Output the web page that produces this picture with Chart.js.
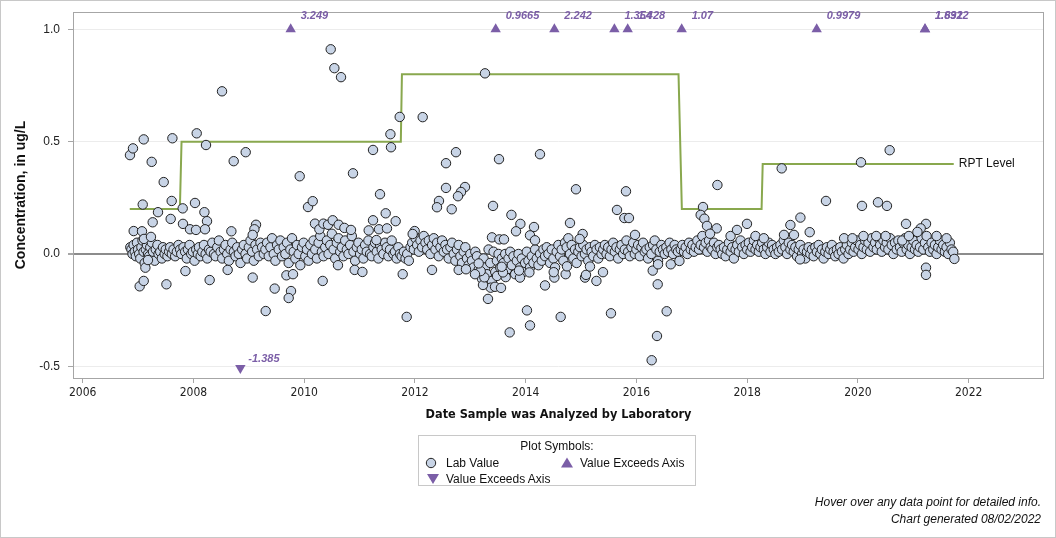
<!DOCTYPE html>
<html>
<head>
<meta charset="utf-8">
<script src="https://cdn.jsdelivr.net/npm/chart.js@4.4.0/dist/chart.umd.min.js"></script>
<style>
  html, body { margin:0; padding:0; background:#fff; }
  #wrap { position:relative; width:1056px; height:538px; overflow:hidden; font-family:"Liberation Sans", Arial, sans-serif; }
  #c { position:absolute; left:0; top:0; }
  #legend { position:absolute; left:418px; top:435px; width:278px; height:51px; border:1px solid #c8c8c8; box-sizing:border-box; font-size:12px; color:#111; }
  #legend .t { position:absolute; left:0; width:100%; top:3px; text-align:center; }
  #legend .it { position:absolute; white-space:nowrap; line-height:14px; }
  #legend svg { position:absolute; }
  .foot { position:absolute; right:15px; font-size:12px; font-style:italic; color:#111; white-space:nowrap; line-height:14px; }
</style>
</head>
<body>
<div id="wrap">
  <canvas id="c" width="1056" height="538"></canvas>
  <div id="legend">
    <div class="t">Plot Symbols:</div>
    <svg style="left:6px;top:21px" width="12" height="12"><circle cx="6" cy="6" r="4.7" fill="#c8d4e6" stroke="#222" stroke-width="1"/></svg>
    <div class="it" style="left:27px;top:20px">Lab Value</div>
    <svg style="left:141px;top:20px" width="14" height="13"><polygon points="7,1.5 13,11.5 1,11.5" fill="#7b5ea7"/></svg>
    <div class="it" style="left:161px;top:20px">Value Exceeds Axis</div>
    <svg style="left:7px;top:36px" width="14" height="13"><polygon points="1,2 13,2 7,12" fill="#7b5ea7"/></svg>
    <div class="it" style="left:27px;top:36px">Value Exceeds Axis</div>
  </div>
  <div class="foot" style="top:495px">Hover over any data point for detailed info.</div>
  <div class="foot" style="top:512px">Chart generated 08/02/2022</div>
</div>
<script>
// ---------------- data ----------------
const xTicks = [2006, 2008, 2010, 2012, 2014, 2016, 2018, 2020, 2022];
const yTicks = [-0.5, 0.0, 0.5, 1.0];

// Reporting level (step line)
const rptDates  = [2006.85, 2007.755, 2007.785, 2011.745, 2011.765, 2016.76, 2016.82, 2018.26, 2018.28, 2021.73];
const rptValues = [0.2,     0.2,      0.5,      0.5,      0.8,      0.8,     0.2,     0.2,     0.4,     0.4];

// Values exceeding the axis (plotted at the axis limits, labelled with their true value)
const highDates  = [2009.756, 2013.458, 2014.518, 2015.602, 2015.842, 2016.817, 2019.255, 2021.211, 2021.211];
const highLabels = ['3.249', '0.9665', '2.242', '1.354', '1.428', '1.07', '0.9979', '1.632', '1.8912'];
const highPlotValue = 1.0;
const lowDates  = [2008.847];
const lowLabels = ['-1.385'];
const lowPlotValue = -0.508;

// Lab values: [decimal year, concentration ug/L]
const labOutliers = [
 [2006.854,0.44],[2006.908,0.47],[2007.102,0.51],[2007.246,0.41],[2007.463,0.32],[2007.084,0.22],[2007.607,0.236],[2007.62,0.515],
 [2007.36,0.186],[2007.264,0.141],[2007.589,0.156],[2007.806,0.203],[2008.028,0.227],[2008.059,0.537],[2008.227,0.485],[2008.198,0.186],
 [2008.245,0.146],[2007.811,0.134],[2007.938,0.11],[2008.046,0.107],[2008.209,0.11],[2008.516,0.724],[2008.727,0.413],[2008.944,0.453],
 [2008.685,0.101],[2006.921,0.102],[2007.071,0.101],[2007.107,0.067],[2007.233,0.076],[2007.029,-0.144],[2007.102,-0.12],[2007.512,-0.135],
 [2007.132,-0.061],[2007.179,-0.027],[2007.855,-0.076],[2008.293,-0.116],[2008.618,-0.071],
 [2009.919,0.346],[2010.069,0.209],[2010.154,0.235],[2010.479,0.911],[2010.545,0.827],[2010.665,0.787],[2010.881,0.359],[2011.243,0.463],
 [2011.557,0.533],[2011.568,0.475],[2011.725,0.61],[2011.369,0.266],[2011.472,0.181],[2011.652,0.146],[2011.243,0.15],[2011.165,0.105],
 [2011.351,0.11],[2011.495,0.114],[2011.304,0.062],
 [2010.195,0.135],[2010.274,0.11],[2010.347,0.135],[2010.43,0.13],[2010.515,0.15],[2010.623,0.13],[2010.726,0.116],[2010.845,0.107],
 [2009.13,0.13],[2009.101,0.11],[2009.07,0.085],[2009.07,-0.105],[2009.305,-0.254],[2009.467,-0.154],[2009.679,-0.095],[2009.798,-0.09],
 [2009.762,-0.165],[2009.72,-0.196],[2010.334,-0.12],[2010.61,-0.05],[2010.912,-0.071],[2011.051,-0.08],[2011.779,-0.09],
 [2012.14,0.609],[2013.265,0.804],[2012.741,0.453],[2012.561,0.404],[2013.518,0.422],[2014.258,0.444],[2012.561,0.294],[2012.904,0.298],
 [2012.832,0.276],[2012.777,0.257],[2012.434,0.236],[2012.398,0.208],[2012.664,0.199],[2013.41,0.214],[2013.742,0.174],[2013.904,0.134],
 [2013.825,0.101],[2014.15,0.12],[2014.078,0.083],[2014.168,0.061],[2013.391,0.074],[2013.525,0.065],[2013.608,0.065],[2014.8,0.138],
 [2014.908,0.288],[2015.029,0.089],[2014.975,0.067],[2015.811,0.279],[2015.649,0.196],[2015.782,0.16],[2015.865,0.16],[2015.974,0.085],
 [2017.202,0.209],[2017.16,0.174],[2017.227,0.157],[2017.274,0.125],[2017.462,0.307],[2017.45,0.114],[2017.329,0.09],[2011.995,0.102],
 [2011.959,0.089],
 [2011.851,-0.28],[2012.308,-0.071],[2013.319,-0.2],[2013.368,-0.15],[2013.446,-0.146],[2013.554,-0.151],[2013.229,-0.138],[2013.254,-0.104],
 [2013.187,-0.076],[2013.084,-0.09],[2013.151,-0.042],[2013.482,-0.098],[2013.639,-0.103],[2013.59,-0.082],[2013.567,-0.057],[2013.711,-0.349],
 [2014.023,-0.251],[2014.078,-0.318],[2013.897,-0.105],[2014.067,-0.082],[2013.879,-0.074],[2014.349,-0.14],[2014.632,-0.28],[2014.518,-0.105],
 [2014.506,-0.081],[2014.722,-0.09],[2014.746,-0.055],[2015.071,-0.105],[2015.089,-0.093],[2015.161,-0.056],[2015.277,-0.12],[2015.396,-0.081],
 [2015.54,-0.264],[2016.275,-0.473],[2016.371,-0.365],[2016.546,-0.255],[2016.384,-0.135],[2016.294,-0.074],[2016.39,-0.046],[2016.62,-0.046],
 [2016.776,-0.031],[2012.79,-0.071],[2012.922,-0.068],
 [2018.623,0.381],[2020.055,0.408],[2020.573,0.462],[2019.423,0.236],[2020.073,0.214],[2020.362,0.23],[2020.524,0.214],[2017.996,0.134],
 [2017.816,0.107],[2018.961,0.162],[2018.78,0.129],[2018.845,0.085],[2018.665,0.085],[2019.129,0.097],[2020.868,0.134],[2021.229,0.134],
 [2021.133,0.114],[2021.074,0.098],[2021.229,-0.061],[2021.229,-0.093],[2021.741,-0.022],[2018.954,-0.024]
];

const labBand2006to2009 = [
 [2006.86,0.03],[2006.88,0.02],[2006.9,0.0],[2006.92,0.04],[2006.94,0.01],[2006.96,-0.01],[2006.98,0.05],[2007.0,0.02],[2007.02,0.0],
 [2007.04,-0.02],[2007.06,0.03],[2007.08,0.06],[2007.1,0.01],[2007.12,-0.04],[2007.14,0.02],[2007.16,0.04],[2007.18,0.0],[2007.2,-0.01],
 [2007.22,0.03],[2007.25,0.05],[2007.27,0.01],[2007.3,-0.03],[2007.32,0.02],[2007.35,0.04],[2007.37,0.0],[2007.4,0.01],[2007.43,-0.02],
 [2007.45,0.03],[2007.48,0.0],[2007.5,0.02],[2007.53,-0.01],[2007.56,0.01],[2007.58,0.03],[2007.61,0.0],[2007.64,0.02],[2007.67,-0.01],
 [2007.7,0.01],[2007.73,0.04],[2007.76,0.02],[2007.78,0.0],
 [2007.82,0.03],[2007.85,0.01],[2007.88,-0.02],[2007.9,0.02],[2007.93,0.04],[2007.96,0.0],[2007.99,0.01],[2008.02,-0.03],[2008.05,0.02],
 [2008.08,0.0],[2008.1,0.03],[2008.13,-0.01],[2008.16,0.01],[2008.19,0.04],[2008.22,0.0],[2008.25,-0.02],[2008.28,0.02],[2008.31,0.01],
 [2008.34,0.05],[2008.37,0.0],[2008.4,-0.01],[2008.43,0.03],[2008.46,0.06],[2008.49,0.01],[2008.52,-0.02],[2008.55,0.02],[2008.58,0.04],
 [2008.61,0.0],[2008.64,-0.03],[2008.67,0.02],[2008.7,0.05],[2008.73,0.01],[2008.76,-0.01],[2008.79,0.03],[2008.82,0.0],[2008.85,-0.04],
 [2008.88,0.02],[2008.91,0.04],[2008.94,0.0],[2008.97,-0.02],[2009.0,0.03],[2009.03,0.06],[2009.06,0.01],[2009.09,-0.03],[2009.12,0.04],
 [2009.15,0.02],[2009.18,-0.01],[2009.21,0.05],[2009.24,0.03],[2009.27,0.0]
];

const labBand2009to2012 = [
 [2009.3,0.02],[2009.33,0.05],[2009.36,-0.01],[2009.39,0.03],[2009.42,0.07],[2009.45,0.0],[2009.48,-0.03],[2009.51,0.04],[2009.54,0.02],
 [2009.57,0.06],[2009.6,-0.01],[2009.63,0.03],[2009.66,0.0],[2009.69,0.05],[2009.72,-0.04],[2009.75,0.02],[2009.78,0.07],[2009.81,0.01],
 [2009.84,-0.02],[2009.87,0.04],[2009.9,0.0],[2009.93,-0.05],[2009.96,0.03],[2009.99,0.05],[2010.02,-0.01],[2010.05,0.02],[2010.08,-0.03],
 [2010.11,0.04],[2010.14,0.0],[2010.17,0.06],[2010.2,0.02],[2010.23,-0.02],[2010.26,0.05],[2010.29,0.08],[2010.32,0.01],[2010.35,-0.01],
 [2010.38,0.03],[2010.41,0.06],[2010.44,0.0],[2010.47,0.04],[2010.5,0.09],[2010.53,0.02],[2010.56,-0.02],[2010.59,0.05],[2010.62,0.07],
 [2010.65,0.01],[2010.68,0.03],[2010.71,-0.01],[2010.74,0.06],[2010.77,0.02],[2010.8,0.0],[2010.83,0.04],[2010.86,0.08],[2010.89,0.01],
 [2010.92,-0.03],[2010.95,0.03],[2010.98,0.05],[2011.01,0.0],[2011.04,0.02],[2011.07,-0.02],[2011.1,0.04],[2011.13,0.01],[2011.16,0.06],
 [2011.19,0.0],[2011.22,-0.01],[2011.25,0.03],[2011.28,0.05],[2011.31,0.01],[2011.34,-0.02],[2011.37,0.04],[2011.4,0.02],[2011.43,0.0],
 [2011.46,0.05],[2011.49,0.03],[2011.52,-0.01],[2011.55,0.02],[2011.58,0.06],[2011.61,0.0],[2011.64,0.01],[2011.67,-0.02],[2011.7,0.03],
 [2011.73,0.0],[2011.76,-0.01]
];

const labBand2012to2016 = [
 [2011.8,0.01],[2011.83,-0.02],[2011.86,0.0],[2011.89,-0.03],[2011.92,0.03],[2011.95,0.05],[2011.98,0.02],[2012.01,0.07],[2012.04,0.04],
 [2012.07,0.01],[2012.1,0.06],[2012.13,0.03],[2012.16,0.08],[2012.19,0.05],[2012.22,0.02],[2012.25,0.06],[2012.28,0.0],[2012.31,0.04],
 [2012.34,0.07],[2012.37,0.02],[2012.4,0.05],[2012.43,-0.01],[2012.46,0.03],[2012.49,0.06],[2012.52,0.01],[2012.55,0.04],[2012.58,0.02],
 [2012.61,-0.02],[2012.64,0.03],[2012.67,0.05],[2012.7,0.0],[2012.73,-0.03],[2012.76,0.02],[2012.79,0.04],[2012.82,-0.01],[2012.85,-0.04],
 [2012.88,0.01],[2012.91,0.03],[2012.94,-0.02],[2012.97,-0.05],[2013.0,0.0],[2013.03,-0.03],[2013.06,-0.06],[2013.09,0.01],[2013.12,-0.01],
 [2013.15,-0.07],[2013.18,-0.04],[2013.21,-0.11],[2013.24,-0.02],[2013.27,-0.06],[2013.3,-0.09],[2013.33,0.02],[2013.36,-0.04],[2013.39,-0.12],
 [2013.42,0.01],[2013.45,-0.08],[2013.48,-0.03],[2013.51,0.0],[2013.54,-0.06],[2013.57,-0.02],
 [2013.6,-0.04],[2013.63,0.0],[2013.66,-0.07],[2013.69,-0.02],[2013.72,0.01],[2013.75,-0.05],[2013.78,-0.01],[2013.81,-0.09],[2013.84,-0.03],
 [2013.87,0.0],[2013.9,-0.06],[2013.93,-0.02],[2013.96,-0.08],[2013.99,-0.04],[2014.02,0.01],[2014.05,-0.03],[2014.08,-0.06],[2014.11,-0.01],
 [2014.14,-0.04],[2014.17,0.02],[2014.2,-0.02],[2014.23,-0.05],[2014.26,0.0],[2014.29,-0.03],[2014.32,0.02],[2014.35,-0.01],[2014.38,0.03],
 [2014.41,0.0],[2014.44,-0.04],[2014.47,0.02],[2014.5,-0.02],[2014.53,-0.06],[2014.56,0.01],[2014.59,0.04],[2014.62,-0.01],[2014.65,0.02],
 [2014.68,-0.03],[2014.71,0.05],[2014.74,0.03],[2014.77,0.07],[2014.8,0.0],[2014.83,0.04],[2014.86,-0.02],[2014.89,0.02],[2014.92,-0.04],
 [2014.95,0.01],[2014.98,0.03],[2015.01,-0.01],[2015.04,0.04],[2015.07,0.0],[2015.1,0.02],[2015.13,-0.03],[2015.16,0.03],[2015.19,0.01],
 [2015.22,-0.01],[2015.25,0.04],[2015.28,0.02],[2015.31,-0.02],[2015.34,0.03],[2015.37,0.0],
 [2015.4,0.02],[2015.43,0.04],[2015.46,0.0],[2015.49,0.03],[2015.52,-0.01],[2015.55,0.02],[2015.58,0.05],[2015.61,0.01],[2015.64,0.03],
 [2015.67,-0.02],[2015.7,0.02],[2015.73,0.04],[2015.76,0.0],[2015.79,0.02],[2015.82,0.06],[2015.85,0.01],[2015.88,-0.01],[2015.91,0.03],
 [2015.94,0.05],[2015.97,0.0],[2016.0,0.02],[2016.03,0.04],[2016.06,-0.01],[2016.09,0.03],[2016.12,0.05],[2016.15,0.01],[2016.18,0.02],
 [2016.21,-0.02],[2016.24,0.03],[2016.27,0.0],[2016.3,0.04],[2016.33,0.06],[2016.36,0.02],[2016.39,-0.03],[2016.42,0.01],[2016.45,0.04],
 [2016.48,0.02],[2016.51,0.0],[2016.54,0.03],[2016.57,0.01],[2016.6,0.05],[2016.63,0.02],[2016.66,0.0],[2016.69,0.04],[2016.72,0.02],
 [2016.75,0.01]
];

const labBand2016to2022 = [
 [2016.8,0.02],[2016.83,0.04],[2016.86,0.01],[2016.89,0.03],[2016.92,0.0],[2016.95,0.05],[2016.98,0.02],[2017.01,0.04],[2017.04,0.01],
 [2017.07,0.03],[2017.1,0.06],[2017.13,0.02],[2017.16,0.04],[2017.19,0.08],[2017.22,0.03],[2017.25,0.05],[2017.28,0.01],[2017.31,0.06],
 [2017.34,0.03],[2017.37,0.02],[2017.4,0.05],[2017.43,0.0],[2017.46,0.03],[2017.49,0.04],[2017.52,0.02],[2017.55,0.0],[2017.58,0.03],
 [2017.61,-0.01],[2017.64,0.02],[2017.67,0.05],[2017.7,0.01],[2017.73,0.03],[2017.76,-0.02],[2017.79,0.02],[2017.82,0.04],[2017.85,0.01],
 [2017.88,0.06],[2017.91,0.03],[2017.94,0.0],[2017.97,0.04],[2018.0,0.02],[2018.03,0.05],[2018.06,0.01],[2018.09,0.03],[2018.12,0.06],
 [2018.15,0.02],[2018.18,0.04],[2018.21,0.01],[2018.24,0.03],[2018.27,0.05],[2018.3,0.02],[2018.33,0.0],[2018.36,0.03],[2018.39,0.05],
 [2018.42,0.01],[2018.45,0.04],[2018.48,0.02],[2018.51,0.0],[2018.54,0.03],[2018.57,0.01],[2018.6,0.04],[2018.63,0.02],[2018.66,0.06],
 [2018.69,0.03],[2018.72,0.0],[2018.75,0.05],[2018.78,0.02],[2018.81,0.04],[2018.84,0.01],[2018.87,0.03],[2018.9,-0.01],[2018.93,0.02],
 [2018.96,0.04],[2018.99,0.0],[2019.02,0.02],[2019.05,-0.02],[2019.08,0.01],[2019.11,0.03],[2019.14,0.0],[2019.17,0.02],[2019.2,-0.01],
 [2019.23,0.03],[2019.26,0.01],[2019.29,0.04],[2019.32,0.0],[2019.35,0.02],[2019.38,-0.02],[2019.41,0.01],[2019.44,0.03],[2019.47,0.0],
 [2019.5,0.02],[2019.53,0.04],[2019.56,0.01],[2019.59,-0.01],[2019.62,0.02],[2019.65,0.0],[2019.68,0.03],[2019.71,0.01],[2019.74,-0.02],
 [2019.77,0.02],[2019.8,0.04],[2019.83,0.0],[2019.86,0.02],[2019.89,0.05],[2019.92,0.01],[2019.95,0.03],[2019.98,0.06],[2020.01,0.02],
 [2020.04,0.04],[2020.07,0.0],[2020.1,0.03],[2020.13,0.06],[2020.16,0.02],[2020.19,0.05],[2020.22,0.01],[2020.25,0.07],[2020.28,0.03],
 [2020.31,0.05],[2020.34,0.02],[2020.37,0.07],[2020.4,0.04],[2020.43,0.01],[2020.46,0.06],[2020.49,0.03],[2020.52,0.05],[2020.55,0.02],
 [2020.58,0.07],[2020.61,0.04],[2020.64,0.0],[2020.67,0.05],[2020.7,0.02],[2020.73,0.06],[2020.76,0.03],[2020.79,0.01],[2020.82,0.05],
 [2020.85,0.07],[2020.88,0.02],[2020.91,0.04],[2020.94,0.0],[2020.97,0.03],[2021.0,0.06],[2021.03,0.02],[2021.06,0.04],[2021.09,0.01],
 [2021.12,0.03],[2021.15,0.07],[2021.18,0.02],[2021.21,0.05],[2021.24,0.08],[2021.27,0.03],[2021.3,0.01],[2021.33,0.05],[2021.36,0.02],
 [2021.39,0.04],[2021.42,0.0],[2021.45,0.03],[2021.48,0.06],[2021.51,0.02],[2021.54,0.04],[2021.57,0.01],[2021.6,0.03],[2021.63,0.0],
 [2021.66,0.05],[2021.69,0.02],[2021.72,0.01],
 [2017.7,0.08],[2018.15,0.08],[2018.3,0.07],[2019.75,0.07],[2019.9,0.07],[2020.1,0.08],[2020.33,0.08],[2020.5,0.08],[2020.8,0.06],
 [2020.92,0.08],[2021.42,0.08],[2021.6,0.07]
];

// ---------------- styles ----------------
const PURPLE = '#7b5ea7';
const GREEN = '#89a84e';
const NARROW = '"Liberation Sans Narrow", "Arial Narrow", "DejaVu Sans Condensed", sans-serif';
const SANS = '"Liberation Sans", Arial, sans-serif';

const labData = [].concat(labBand2006to2009, labBand2009to2012, labBand2012to2016, labBand2016to2022, labOutliers)
  .map(p => ({x: p[0], y: p[1]}));
const rptData = rptDates.map((d, i) => ({x: d, y: rptValues[i]}));
const highData = highDates.map(d => ({x: d, y: highPlotValue}));
const lowData = lowDates.map(d => ({x: d, y: lowPlotValue}));

const overlay = {
  id: 'overlay',
  beforeDraw(chart) {
    const {ctx, width, height} = chart;
    ctx.save();
    ctx.fillStyle = '#fff';
    ctx.fillRect(0, 0, width, height);
    ctx.strokeStyle = '#c8c8c8';
    ctx.lineWidth = 1;
    ctx.strokeRect(0.5, 0.5, width - 1, height - 1);
    ctx.restore();
  },
  beforeDatasetsDraw(chart) {
    const {ctx, chartArea: a} = chart;
    ctx.save();
    ctx.strokeStyle = '#a6a6a6';
    ctx.lineWidth = 1;
    ctx.strokeRect(Math.round(a.left) + 0.5, Math.round(a.top) + 0.5, Math.round(a.right - a.left) - 1, Math.round(a.bottom - a.top));
    ctx.restore();
  },
  afterDatasetsDraw(chart) {
    const {ctx, scales: {x, y}} = chart;
    ctx.save();
    ctx.font = 'italic bold 11px ' + SANS;
    ctx.fillStyle = PURPLE;
    ctx.textAlign = 'left';
    ctx.textBaseline = 'middle';
    highDates.forEach((d, i) => {
      ctx.fillText(highLabels[i], x.getPixelForValue(d) + 10, y.getPixelForValue(highPlotValue) - 13);
    });
    lowDates.forEach((d, i) => {
      ctx.fillText(lowLabels[i], x.getPixelForValue(d) + 8, y.getPixelForValue(lowPlotValue) - 9);
    });
    // RPT Level label at the end of the step line
    const lastX = x.getPixelForValue(rptDates[rptDates.length - 1]);
    const lastY = y.getPixelForValue(rptValues[rptValues.length - 1]);
    ctx.font = '12px ' + SANS;
    ctx.fillStyle = '#111';
    ctx.fillText('RPT Level', lastX + 5, lastY);
    ctx.restore();
  }
};

new Chart(document.getElementById('c'), {
  type: 'scatter',
  data: {
    datasets: [
      { label: 'Lab Value', data: labData, order: 0,
        pointRadius: 4.7, pointHoverRadius: 5.5, pointBackgroundColor: '#c8d4e6', pointBorderColor: '#222', pointBorderWidth: 1 },
      { label: 'Value Exceeds Axis', data: highData, order: 1, pointStyle: 'triangle',
        pointRadius: 6, pointBackgroundColor: PURPLE, pointBorderColor: PURPLE, pointBorderWidth: 0 },
      { label: 'Value Exceeds Axis ', data: lowData, order: 1, pointStyle: 'triangle', rotation: 180,
        pointRadius: 6, pointBackgroundColor: PURPLE, pointBorderColor: PURPLE, pointBorderWidth: 0 },
      { type: 'line', label: 'RPT Level', data: rptData, order: 5, showLine: true, fill: false,
        borderColor: GREEN, borderWidth: 2, pointRadius: 0, tension: 0 }
    ]
  },
  options: {
    responsive: false,
    animation: false,
    layout: { padding: { top: 12, right: 12, bottom: 114, left: 0 } },
    plugins: { legend: { display: false }, tooltip: { enabled: true } },
    scales: {
      x: {
        type: 'linear', min: 2005.825, max: 2023.36,
        afterBuildTicks: s => { s.ticks = xTicks.map(v => ({value: v})); },
        afterFit: s => { s.height = 46; s.paddingLeft = 0; s.paddingRight = 0; },
        ticks: { autoSkip: false, maxRotation: 0, padding: 3, color: '#222', font: { size: 12, family: NARROW },
                 callback: v => String(v) },
        grid: { drawOnChartArea: false, drawTicks: true, tickLength: 5, tickColor: '#a6a6a6' },
        border: { display: false },
        title: { display: true, text: 'Date Sample was Analyzed by Laboratory', color: '#111',
                 font: { size: 12.6, weight: 'bold', family: NARROW }, padding: { top: 2, bottom: 2 } }
      },
      y: {
        type: 'linear', min: -0.552, max: 1.077,
        afterBuildTicks: s => { s.ticks = yTicks.map(v => ({value: v})); },
        afterFit: s => { s.width = 73; s.paddingTop = 0; s.paddingBottom = 0; },
        ticks: { padding: 8, color: '#222', font: { size: 12, family: SANS }, callback: v => Number(v).toFixed(1) },
        grid: { drawTicks: true, tickLength: 5, tickColor: '#a6a6a6',
                color: c => (c.tick && c.tick.value === 0) ? '#8c8c8c' : '#ececec',
                lineWidth: c => (c.tick && c.tick.value === 0) ? 2 : 1 },
        border: { display: false },
        title: { display: true, text: 'Concentration, in ug/L', color: '#111',
                 font: { size: 14, weight: 'bold', family: SANS }, padding: { top: 13, bottom: 0 } }
      }
    }
  },
  plugins: [overlay]
});
</script>
</body>
</html>
